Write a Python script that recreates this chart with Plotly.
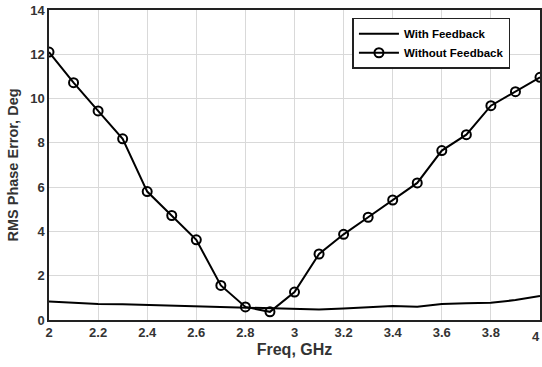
import plotly.graph_objects as go

freq = [2.0, 2.1, 2.2, 2.3, 2.4, 2.5, 2.6, 2.7, 2.8, 2.9, 3.0,
        3.1, 3.2, 3.3, 3.4, 3.5, 3.6, 3.7, 3.8, 3.9, 4.0]
with_feedback = [0.83, 0.77, 0.72, 0.71, 0.68, 0.66, 0.64, 0.62, 0.58, 0.55, 0.52,
                 0.47, 0.52, 0.58, 0.63, 0.60, 0.72, 0.76, 0.78, 0.90, 1.08]
without_feedback = [12.1, 10.72, 9.44, 8.18, 5.8, 4.72, 3.62, 1.56, 0.59, 0.37, 1.26,
                    2.98, 3.87, 4.64, 5.42, 6.19, 7.65, 8.37, 9.68, 10.31, 10.96]
x_ticks = [2, 2.2, 2.4, 2.6, 2.8, 3, 3.2, 3.4, 3.6, 3.8, 4]
x_tick_text = ["2", "2.2", "2.4", "2.6", "2.8", "3", "3.2", "3.4", "3.6", "3.8", "4"]
y_ticks = [0, 2, 4, 6, 8, 10, 12, 14]

FONT = "Liberation Sans, Arial, sans-serif"

fig = go.Figure()
fig.add_trace(go.Scatter(x=freq, y=with_feedback, mode="lines", name="With Feedback",
                         line=dict(color="black", width=2)))
fig.add_trace(go.Scatter(x=freq, y=without_feedback, mode="lines+markers", name="Without Feedback",
                         line=dict(color="black", width=2),
                         marker=dict(symbol="circle-open", size=9, color="black",
                                     line=dict(width=2, color="black"))))

axis_common = dict(showgrid=True, gridcolor="#d9d9d9", gridwidth=1,
                   showline=True, linecolor="#222", linewidth=1.5, mirror=True,
                   zeroline=False, ticks="", automargin=False,
                   tickfont=dict(family=FONT, size=13, color="#333", weight="bold"))

fig.update_layout(
    width=542, height=367,
    margin=dict(l=49, r=2, t=10, b=47),
    paper_bgcolor="white", plot_bgcolor="white",
    font=dict(family=FONT, color="#333"),
    xaxis=dict(range=[2, 4], tickvals=x_ticks[:-1], ticktext=x_tick_text[:-1],
               title=dict(text="<b>Freq, GHz</b>", font=dict(size=16, family=FONT, color="#333"), standoff=4),
               **axis_common),
    yaxis=dict(range=[0, 14], tickvals=y_ticks,
               title=dict(text="<b>RMS Phase Error, Deg</b>", font=dict(size=14.5, family=FONT, color="#333"), standoff=8),
               **axis_common),
    legend=dict(x=0.618, y=0.975, xanchor="left", yanchor="top",
                bgcolor="white", bordercolor="#222", borderwidth=1.5,
                font=dict(family=FONT, size=11.5, color="black", weight="bold"),
                tracegroupgap=0, itemwidth=40),
    showlegend=True,
)
# last x tick label, kept fully inside the page
fig.add_annotation(x=x_ticks[-1], y=0, xref="x", yref="paper", text=x_tick_text[-1],
                   showarrow=False, xanchor="right", yanchor="top", xshift=2, yshift=-7,
                   font=dict(family=FONT, size=13, color="#333", weight="bold"))

fig.write_html("out.html", config={"responsive": False, "displayModeBar": False},
               post_script="document.body.style.margin='0';document.body.style.overflow='hidden';")
